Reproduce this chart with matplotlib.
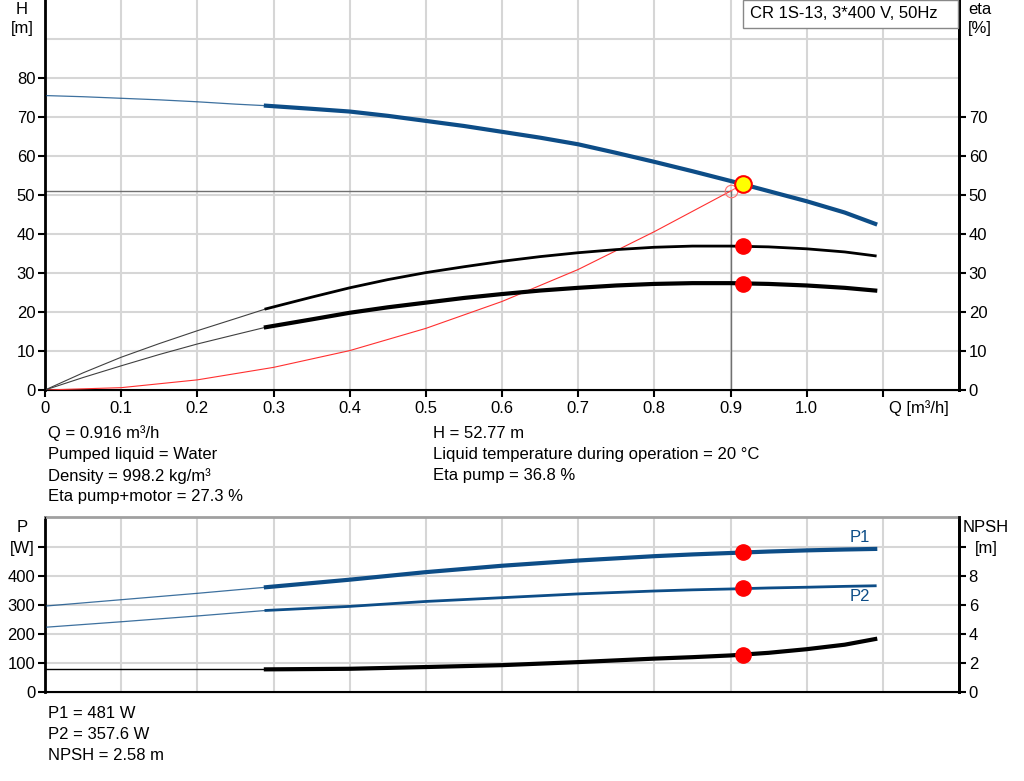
import matplotlib
matplotlib.use('Agg')
import matplotlib.pyplot as plt
from matplotlib.patches import Rectangle

plt.rcParams['font.family'] = ['Liberation Sans', 'DejaVu Sans']
plt.rcParams['font.size'] = 12

# upper chart, flow points (m3/h); points up to 0.29 are the thin part
q_top = [0.0, 0.05, 0.1, 0.15, 0.2, 0.25, 0.29, 0.35, 0.4, 0.45, 0.5, 0.55, 0.6,
         0.65, 0.7, 0.75, 0.8, 0.85, 0.9, 0.95, 1.0, 1.05, 1.09]
head = [75.5, 75.2, 74.8, 74.4, 73.9, 73.3, 72.9, 72.1, 71.4, 70.3, 69.0, 67.7, 66.2,
        64.7, 63.0, 60.8, 58.5, 56.1, 53.6, 51.0, 48.4, 45.5, 42.6]
eta_pump = [0.0, 4.4, 8.4, 11.9, 15.2, 18.3, 20.8, 23.8, 26.2, 28.3, 30.1, 31.6, 33.0,
            34.2, 35.2, 36.0, 36.6, 36.9, 36.9, 36.7, 36.2, 35.4, 34.4]
eta_total = [0.0, 3.2, 6.2, 9.1, 11.8, 14.2, 16.1, 18.1, 19.8, 21.2, 22.4, 23.6, 24.6,
             25.5, 26.2, 26.8, 27.2, 27.4, 27.4, 27.2, 26.8, 26.2, 25.5]

# system curve
q_sys = [0.0, 0.1, 0.2, 0.3, 0.4, 0.5, 0.6, 0.7, 0.8, 0.9]
h_sys = [0.0, 0.6, 2.6, 5.8, 10.1, 15.8, 22.7, 30.9, 40.6, 51.0]

# lower chart
q_low = [0.0, 0.1, 0.2, 0.29, 0.4, 0.5, 0.6, 0.7, 0.8, 0.85, 0.9, 0.95, 1.0, 1.05, 1.09]
p1 = [296, 318, 340, 361, 387, 413, 435, 453, 468, 474, 479, 484, 488, 491, 493]
p2 = [223, 242, 262, 281, 295, 312, 325, 338, 348, 352, 355, 358.5, 361, 364, 366]
npsh = [1.56, 1.56, 1.56, 1.56, 1.6, 1.72, 1.85, 2.06, 2.3, 2.4, 2.52, 2.7, 2.95, 3.26, 3.65]

# duty point
q_op = 0.916
h_op = 52.77
eta_pump_op = 36.8
eta_total_op = 27.3
p1_op = 481
p2_op = 357.6
npsh_op = 2.58

# requested point on system curve
q_req = 0.9
h_req = 51.0

BLUE = '#0d4d87'
GRID = '#d6d6d6'
s_top = 6
s_low = 3

fig = plt.figure(figsize=(10.24, 7.81), dpi=100)
L, W = 45 / 1024, 914 / 1024


def style(ax):
    ax.set_xlim(0, 1.2)
    ax.spines['top'].set_visible(False)
    ax.spines['left'].set_linewidth(2)
    ax.spines['right'].set_linewidth(2)
    ax.spines['bottom'].set_linewidth(1.5)
    for x in [0.1, 0.2, 0.3, 0.4, 0.5, 0.6, 0.7, 0.8, 0.9, 1.0, 1.1]:
        ax.axvline(x, color=GRID, lw=1.5, zorder=0)
    ax.tick_params(axis='y', direction='out', length=5, width=1.5, pad=2)


# ---- upper chart: H and eta
ax = fig.add_axes([L, 1 - 390 / 781, W, 390 / 781])
style(ax)
ax.set_ylim(0, 100)
for y in range(10, 100, 10):
    ax.axhline(y, color=GRID, lw=1.5, zorder=0)
ax.set_yticks(range(0, 90, 10))
ax.set_xticks([0, 0.1, 0.2, 0.3, 0.4, 0.5, 0.6, 0.7, 0.8, 0.9, 1.0, 1.1])
ax.set_xticklabels(['0', '0.1', '0.2', '0.3', '0.4', '0.5', '0.6', '0.7', '0.8', '0.9', '1.0', ''])
ax.tick_params(axis='x', direction='out', length=5, width=1.5, pad=3)
ax.text(1.108, -4.6, 'Q [m³/h]', ha='left', va='center')

axr = ax.twinx()
axr.set_ylim(0, 100)
axr.set_yticks(range(0, 80, 10))
axr.spines['top'].set_visible(False)
axr.spines['right'].set_linewidth(2)
axr.tick_params(axis='y', direction='out', length=5, width=1.5, pad=2)

# guide lines to the requested point
ax.plot([0, q_req], [h_req, h_req], color='#707070', lw=1, zorder=2)
ax.plot([q_req, q_req], [0, h_req], color='#707070', lw=1, zorder=2)

# system curve
ax.plot(q_sys, h_sys, color='#ff3030', lw=0.8, zorder=3)
ax.plot([q_req, q_op], [h_req, h_op], color='#ff6060', lw=0.8, zorder=3)
ax.plot(q_req, h_req, 'o', ms=9, mfc='none', mec='#ff7070', mew=0.8, zorder=4)

# pump curves
ax.plot(q_top[:s_top + 1], head[:s_top + 1], color=BLUE, lw=0.9, alpha=0.8, zorder=3)
ax.plot(q_top[s_top:], head[s_top:], color=BLUE, lw=3, zorder=3)
ax.plot(q_top[:s_top + 1], eta_pump[:s_top + 1], color='#404040', lw=0.8, zorder=3)
ax.plot(q_top[s_top:], eta_pump[s_top:], color='black', lw=2, zorder=3)
ax.plot(q_top[:s_top + 1], eta_total[:s_top + 1], color='#404040', lw=0.8, zorder=3)
ax.plot(q_top[s_top:], eta_total[s_top:], color='black', lw=3, zorder=3)

ax.plot(q_op, eta_pump_op, 'o', ms=11, color='#ff0000', zorder=5)
ax.plot(q_op, eta_total_op, 'o', ms=11, color='#ff0000', zorder=5)
ax.plot(q_op, h_op, 'o', ms=12, mfc='#ffff00', mec='#ff0000', mew=1.5, zorder=6)

fig.text(22 / 1024, 1 - 9 / 781, 'H', ha='center', va='center')
fig.text(22 / 1024, 1 - 29 / 781, '[m]', ha='center', va='center')
fig.text(980 / 1024, 1 - 9 / 781, 'eta', ha='center', va='center')
fig.text(980 / 1024, 1 - 29 / 781, '[%]', ha='center', va='center')

fig.patches.append(Rectangle((743 / 1024, 1 - 28 / 781), 215 / 1024, 28 / 781,
                             transform=fig.transFigure, facecolor='white',
                             edgecolor='#888888', lw=1, zorder=10))
fig.text(750 / 1024, 1 - 14 / 781, 'CR 1S-13, 3*400 V, 50Hz', ha='left', va='center',
         zorder=11)

# ---- info text
info_left = ['Q = 0.916 m³/h', 'Pumped liquid = Water', 'Density = 998.2 kg/m³',
             'Eta pump+motor = 27.3 %']
info_right = ['H = 52.77 m', 'Liquid temperature during operation = 20 °C', 'Eta pump = 36.8 %']
for i, s in enumerate(info_left):
    fig.text(48 / 1024, 1 - (433 + 21.3 * i) / 781, s, ha='left', va='center')
for i, s in enumerate(info_right):
    fig.text(433 / 1024, 1 - (433 + 21.3 * i) / 781, s, ha='left', va='center')

# ---- lower chart: P and NPSH
bx = fig.add_axes([L, 1 - 692 / 781, W, 175 / 781])
style(bx)
bx.spines['top'].set_visible(True)
bx.spines['top'].set_color('#a0a0a0')
bx.spines['top'].set_linewidth(2)
bx.set_ylim(0, 603)
for y in [100, 200, 300, 400, 500]:
    bx.axhline(y, color=GRID, lw=1.5, zorder=0)
bx.set_yticks([0, 100, 200, 300, 400, 500])
bx.set_yticklabels(['0', '100', '200', '300', '400', ''])
bx.set_xticks([])

bxr = bx.twinx()
bxr.set_ylim(0, 12.06)
bxr.set_yticks([0, 2, 4, 6, 8, 10])
bxr.set_yticklabels(['0', '2', '4', '6', '8', ''])
bxr.spines['top'].set_visible(False)
bxr.spines['right'].set_linewidth(2)
bxr.tick_params(axis='y', direction='out', length=5, width=1.5, pad=2)

bx.plot(q_low[:s_low + 1], p1[:s_low + 1], color=BLUE, lw=0.9, alpha=0.8, zorder=3)
bx.plot(q_low[s_low:], p1[s_low:], color=BLUE, lw=3, zorder=3)
bx.plot(q_low[:s_low + 1], p2[:s_low + 1], color=BLUE, lw=0.9, alpha=0.8, zorder=3)
bx.plot(q_low[s_low:], p2[s_low:], color=BLUE, lw=2, zorder=3)
bxr.plot(q_low[:s_low + 1], npsh[:s_low + 1], color='black', lw=1, zorder=3)
bxr.plot(q_low[s_low:], npsh[s_low:], color='black', lw=3, zorder=3)

bx.plot(q_op, p1_op, 'o', ms=11, color='#ff0000', zorder=5)
bx.plot(q_op, p2_op, 'o', ms=11, color='#ff0000', zorder=5)
bxr.plot(q_op, npsh_op, 'o', ms=11, color='#ff0000', zorder=5)

bx.text(1.07, 534, 'P1', color=BLUE, ha='center', va='center')
bx.text(1.07, 328, 'P2', color=BLUE, ha='center', va='center')

fig.text(22 / 1024, 1 - 527 / 781, 'P', ha='center', va='center')
fig.text(22 / 1024, 1 - 548 / 781, '[W]', ha='center', va='center')
fig.text(986 / 1024, 1 - 527 / 781, 'NPSH', ha='center', va='center')
fig.text(986 / 1024, 1 - 548 / 781, '[m]', ha='center', va='center')

info_bottom = ['P1 = 481 W', 'P2 = 357.6 W', 'NPSH = 2.58 m']
for i, s in enumerate(info_bottom):
    fig.text(48 / 1024, 1 - (713 + 21.5 * i) / 781, s, ha='left', va='center')

fig.savefig('out.png', dpi=100)
